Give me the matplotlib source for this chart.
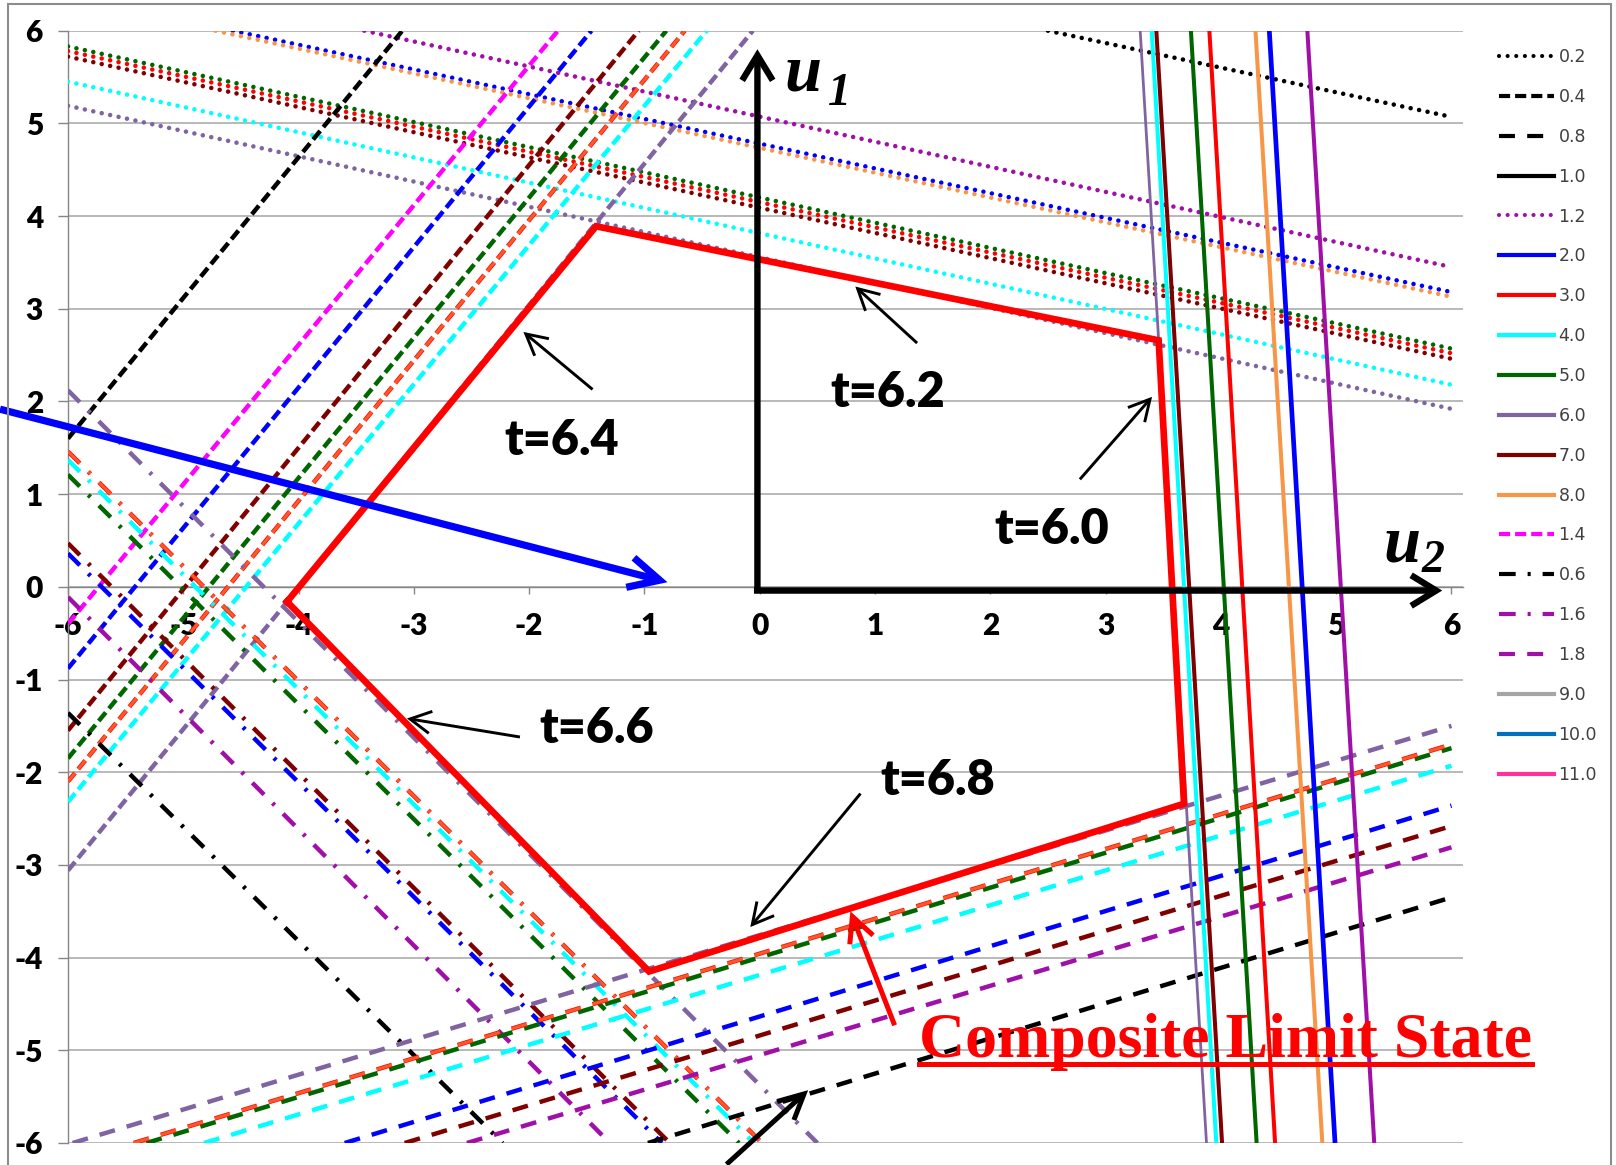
import matplotlib
matplotlib.use("Agg")
import matplotlib.pyplot as plt
from matplotlib import font_manager
from matplotlib.lines import Line2D
from matplotlib.patches import FancyArrowPatch, Rectangle

plt.rcParams["lines.scale_dashes"] = False


def bold_family(candidates):
    """First family whose bold face resolves to a real bold file."""
    for fam in candidates:
        try:
            path = font_manager.findfont(
                font_manager.FontProperties(family=fam, weight="bold"),
                fallback_to_default=False)
        except Exception:
            continue
        name = path.lower()
        if "bold" in name or "black" in name or "heavy" in name:
            return fam
    return "DejaVu Sans"


SANS_BOLD = bold_family(["Lato", "Open Sans", "Noto Sans", "Roboto", "DejaVu Sans"])
plt.rcParams["font.family"] = [SANS_BOLD, "DejaVu Sans"]
plt.rcParams["font.weight"] = "heavy"

BLACK = "#000000"
PURPLE = "#A010A8"
BLUE = "#0000FF"
ORANGE = "#F79646"
GREEN = "#006600"
RED = "#FF0000"
DARKRED = "#800000"
CYAN = "#00FFFF"
SLATE = "#8064A2"
MAGENTA = "#FF00FF"
GRAY = "#A5A5A5"
STEEL = "#0070C0"
PINK = "#FF3399"

# t = 6.0 : near-vertical limit states, u2 where each crosses u1 = 6 and u1 = -6
t60_colors = [SLATE, CYAN, DARKRED, GREEN, RED, ORANGE, BLUE, PURPLE]
t60_u2_top = [3.30, 3.40, 3.44, 3.74, 3.90, 4.30, 4.42, 4.75]
t60_u2_bottom = [3.875, 3.96, 4.01, 4.31, 4.47, 4.88, 4.99, 5.33]

# t = 6.2 : shallow descending limit states, start point and u1 at u2 = 6
t62_colors = [BLACK, PURPLE, BLUE, ORANGE, GREEN, RED, DARKRED, CYAN, SLATE]
t62_u2_start = [2.50, -3.43, -4.57, -4.72, -6, -6, -6, -6, -6]
t62_u1_start = [6, 6, 6, 6, 5.83, 5.78, 5.72, 5.45, 5.19]
t62_u1_end = [5.07, 3.45, 3.18, 3.13, 2.57, 2.52, 2.46, 2.18, 1.92]

# t = 6.4 : steep ascending, u1 at u2 = -6 and u2 at u1 = 6
t64_colors = [BLACK, MAGENTA, BLUE, DARKRED, GREEN, RED, ORANGE, CYAN, SLATE]
t64_u1_left = [1.60, -0.40, -0.88, -1.55, -1.85, -2.10, -2.10, -2.32, -3.06]
t64_u2_top = [-3.10, -1.75, -1.46, -1.05, -0.81, -0.65, -0.65, -0.46, -0.06]

# t = 6.6 : descending, u1 at u2 = -6 and u2 at u1 = -6
t66_colors = [SLATE, CYAN, RED, ORANGE, GREEN, DARKRED, BLUE, PURPLE, BLACK]
t66_u1_left = [2.12, 1.37, 1.46, 1.46, 1.21, 0.47, 0.36, -0.11, -1.36]
t66_u2_bottom = [0.50, -0.05, 0.02, 0.02, -0.18, -0.78, -0.85, -1.30, -2.23]

# t = 6.8 : shallow ascending, u2 at u1 = -6 and u1 at u2 = 6
t68_colors = [SLATE, GREEN, RED, ORANGE, CYAN, BLUE, DARKRED, PURPLE, BLACK]
t68_u2_bottom = [-5.96, -5.32, -5.43, -5.43, -4.82, -3.60, -3.08, -2.54, -0.97]
t68_u1_right = [-1.50, -1.74, -1.70, -1.70, -1.93, -2.36, -2.58, -2.81, -3.35]

# composite limit state polygon
cls_u2 = [-4.10, -1.42, 3.46, 3.68, -0.96, -4.10]
cls_u1 = [-0.16, 3.89, 2.66, -2.34, -4.15, -0.16]

# legend entries
legend_labels = ["0.2", "0.4", "0.8", "1.0", "1.2", "2.0", "3.0", "4.0", "5.0",
                 "6.0", "7.0", "8.0", "1.4", "0.6", "1.6", "1.8", "9.0", "10.0", "11.0"]
legend_colors = [BLACK, BLACK, BLACK, BLACK, PURPLE, BLUE, RED, CYAN, GREEN,
                 SLATE, DARKRED, ORANGE, MAGENTA, BLACK, PURPLE, PURPLE, GRAY, STEEL, PINK]
legend_kinds = ["dot", "dash", "longdash", "solid", "dot", "solid", "solid", "solid", "solid",
                "solid", "solid", "solid", "dash", "dashdot", "dashdot", "longdash",
                "solid", "solid", "solid"]

ticks = list(range(-6, 7))

# line patterns (points)
STYLES = {
    "solid": "-",
    "dot": (0, (0.01, 6.2)),
    "dash": (0, (8.0, 3.6)),
    "longdash": (0, (11.5, 8.8)),
    "dashdot": (0, (12.0, 8.6, 2.2, 8.6)),
}
CAPS = {"dot": "round"}

fig = plt.figure(figsize=(16.16, 11.65), dpi=100)
ax = fig.add_axes([68 / 1616, 22 / 1165, (1463 - 68) / 1616, (1143 - 30.7) / 1165])
ax.set_xlim(-6, 6.10)
ax.set_ylim(-6, 6)


def draw(xs, ys, color, kind, lw, z, alpha=1.0):
    ax.plot(xs, ys, color=color, linestyle=STYLES[kind], lw=lw, alpha=alpha,
            dash_capstyle=CAPS.get(kind, "butt"), solid_capstyle="butt", zorder=z)


def dashed_family(colors, xs0, ys0, xs1, ys1, kind):
    for c, a, b, p, q in zip(colors, xs0, ys0, xs1, ys1):
        if c == ORANGE:
            draw([a, p], [b, q], c, kind, 2.2, 3, alpha=0.6)
        else:
            draw([a, p], [b, q], c, kind, 3.2, 3)


# t = 6.2 dotted family
for c, x0, y0, y1 in zip(t62_colors, t62_u2_start, t62_u1_start, t62_u1_end):
    draw([x0, 6], [y0, y1], c, "dot", 3.3, 3)

# t = 6.4 dashed family
n64 = len(t64_colors)
dashed_family(t64_colors, [-6] * n64, t64_u1_left, t64_u2_top, [6] * n64, "dash")

# t = 6.6 dash-dot family
n66 = len(t66_colors)
dashed_family(t66_colors, [-6] * n66, t66_u1_left, t66_u2_bottom, [-6] * n66, "dashdot")

# t = 6.8 long-dash family
n68 = len(t68_colors)
dashed_family(t68_colors, t68_u2_bottom, [-6] * n68, [6] * n68, t68_u1_right, "longdash")

# t = 6.0 solid family
for c, xt, xb in zip(t60_colors, t60_u2_top, t60_u2_bottom):
    lw = 2.0 if c == SLATE else (3.4 if c == BLUE else 2.9)
    draw([xt, xb], [6, -6], c, "solid", lw, 4)

# composite limit state
ax.plot(cls_u2, cls_u1, color=RED, lw=4.8, solid_joinstyle="miter", zorder=6)

# axes styling
for s in ("top", "right"):
    ax.spines[s].set_visible(False)
ax.spines["left"].set_color("#868686")
ax.spines["bottom"].set_color("#868686")
ax.spines["bottom"].set_position(("data", 0))
ax.spines["left"].set_linewidth(1.0)
ax.spines["bottom"].set_linewidth(1.0)
ax.set_xticks(ticks)
ax.set_yticks(ticks)
ax.xaxis.set_major_formatter(plt.FuncFormatter(lambda v, p: f"{v:.0f}"))
ax.yaxis.set_major_formatter(plt.FuncFormatter(lambda v, p: f"{v:.0f}"))
ax.yaxis.grid(True, color="#A6A6A6", lw=1.1)
ax.set_axisbelow(True)
ax.tick_params(axis="y", direction="out", length=7, width=1, color="#868686",
               pad=11, labelsize=21.5)
ax.tick_params(axis="x", direction="out", length=5, width=1, color="#868686",
               pad=13, labelsize=21.5)


def arrow(p0, p1, color, lw, hl, hw, z=8):
    a = FancyArrowPatch(p0, p1, arrowstyle=f"->,head_length={hl},head_width={hw}",
                        mutation_scale=20, color=color, lw=lw, shrinkA=0, shrinkB=0,
                        clip_on=False, zorder=z, joinstyle="miter", capstyle="butt")
    ax.add_patch(a)


# u1 / u2 coordinate arrows
arrow((-0.02, -0.04), (-0.02, 5.80), BLACK, 4.6, 0.9, 0.55)
arrow((-0.05, -0.04), (5.92, -0.04), BLACK, 4.6, 0.9, 0.55)

# thick blue arrow
arrow((-6.59, 1.917), (-0.80, 0.05), BLUE, 5.2, 1.1, 0.55, z=9)

# pointer arrows for the labels
arrow((1.365, 2.63), (0.829, 3.24), BLACK, 2.1, 0.75, 0.4)
arrow((-1.45, 2.13), (-2.05, 2.75), BLACK, 2.1, 0.75, 0.4)
arrow((2.777, 1.16), (3.403, 2.05), BLACK, 2.1, 0.75, 0.4)
arrow((-2.08, -1.62), (-3.06, -1.42), BLACK, 2.1, 0.75, 0.4)
arrow((0.874, -2.23), (-0.082, -3.67), BLACK, 2.1, 0.75, 0.4)
arrow((1.17, -4.73), (0.786, -3.50), RED, 3.6, 0.9, 0.45)
arrow((-0.288, -6.23), (0.42, -5.43), BLACK, 3.6, 0.9, 0.45)

# time labels
time_labels = ["t=6.2", "t=6.4", "t=6.0", "t=6.6", "t=6.8"]
time_u2 = [1.11, -1.72, 2.53, -1.41, 1.54]
time_u1 = [1.94, 1.42, 0.46, -1.69, -2.25]
for s, x, y in zip(time_labels, time_u2, time_u1):
    ax.text(x, y, s, ha="center", va="baseline", fontsize=35, fontweight="heavy",
            zorder=10)

# axis symbols
serif = ["Liberation Serif", "DejaVu Serif"]
ax.text(0.219, 5.36, "u", fontsize=48, fontweight="bold", fontstyle="italic",
        family=serif, ha="left", va="baseline", zorder=10)
ax.text(0.59, 5.20, "1", fontsize=33, fontweight="bold", fontstyle="italic",
        family=serif, ha="left", va="baseline", zorder=10)
ax.text(5.41, 0.27, "u", fontsize=48, fontweight="bold", fontstyle="italic",
        family=serif, ha="left", va="baseline", zorder=10)
ax.text(5.74, 0.16, "2", fontsize=33, fontweight="bold", fontstyle="italic",
        family=serif, ha="left", va="baseline", zorder=10)

# composite limit state caption
cap_x, cap_y = 1.38, -5.07
cap = ax.text(cap_x, cap_y, "Composite Limit State", color=RED, fontsize=46,
              fontweight="bold", family=serif, ha="left", va="baseline",
              zorder=10, clip_on=False)

# legend
handles = [Line2D([], [], color=c, linestyle=STYLES[k], lw=3.0,
                  dash_capstyle=CAPS.get(k, "butt"))
           for c, k in zip(legend_colors, legend_kinds)]
fig.legend(handles, legend_labels, loc="upper left",
           bbox_to_anchor=(1499 / 1616, 1 - 48 / 1165), frameon=False,
           borderpad=0, borderaxespad=0, handlelength=3.17, handletextpad=0.25,
           labelspacing=1.26,
           prop={"family": "DejaVu Sans", "size": 12.5, "weight": "normal"},
           labelcolor="#404040")

# outer frame
fig.add_artist(Rectangle((8 / 1616, -0.01), (1611 - 8) / 1616, 1.01 - 4 / 1165,
                         transform=fig.transFigure, fill=False,
                         edgecolor="#8C8C8C", lw=1.5))

# underline for the caption
fig.canvas.draw()
bb = cap.get_window_extent()
base = ax.transData.transform((cap_x, cap_y))[1]
inv = fig.transFigure.inverted()
(ux0, uy), (ux1, _) = inv.transform([(bb.x0, base - 7), (bb.x1, base - 7)])
fig.add_artist(Line2D([ux0, ux1], [uy, uy], color=RED, lw=3.6,
                      transform=fig.transFigure, zorder=11))

fig.savefig("out.png", dpi=100)
